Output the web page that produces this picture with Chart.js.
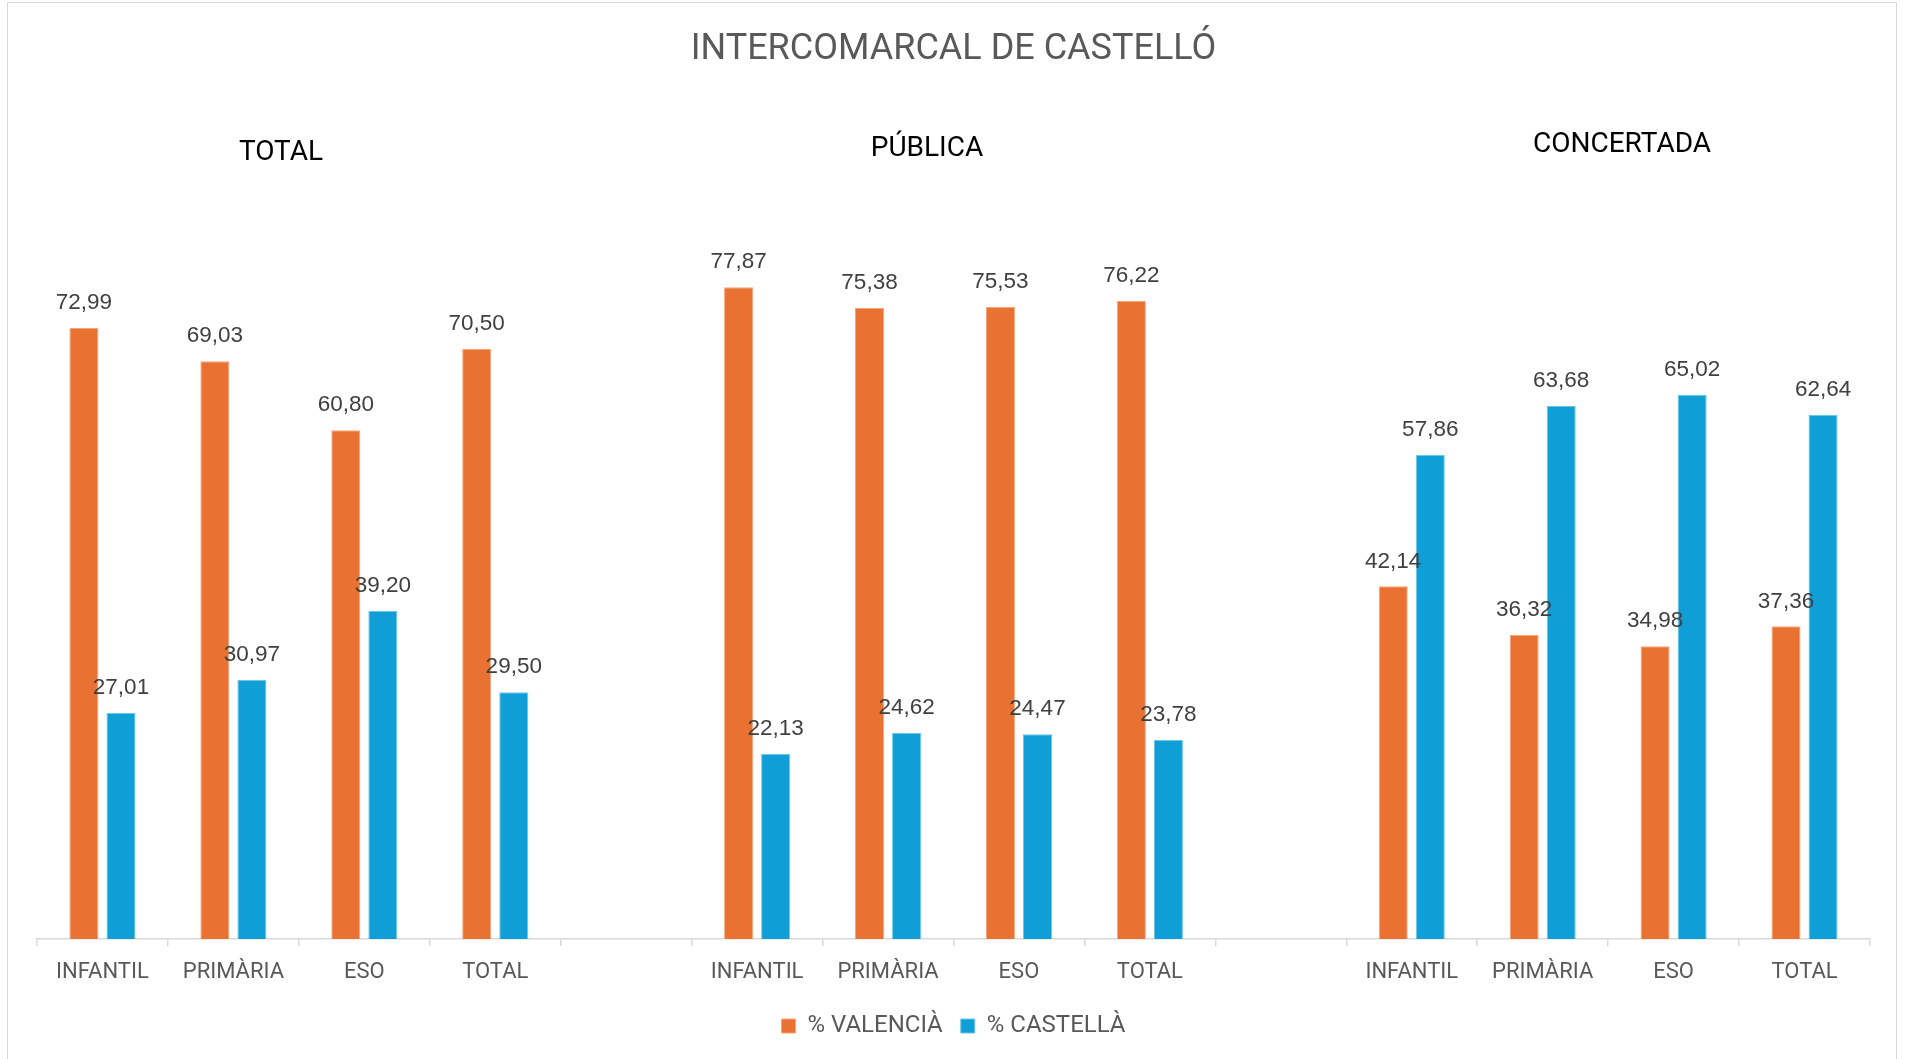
<!DOCTYPE html>
<html>
<head>
<meta charset="utf-8">
<script src="https://cdn.jsdelivr.net/npm/chart.js@4"></script>
<style>
  body { margin: 0; background: #ffffff; overflow: hidden; }
  #frame { position: absolute; left: 7px; top: 2px; width: 1888px; height: 1100px; border: 1px solid #d9d9d9; }
  #wrap { position: absolute; left: 0; top: 0; width: 1905px; height: 1059px; }
</style>
</head>
<body>
<div id="frame"></div>
<div id="wrap"><canvas id="myChart"></canvas></div>
<script>
const categories = ['INFANTIL', 'PRIMÀRIA', 'ESO', 'TOTAL', '',
                    'INFANTIL', 'PRIMÀRIA', 'ESO', 'TOTAL', '',
                    'INFANTIL', 'PRIMÀRIA', 'ESO', 'TOTAL'];

const valencia = [72.99, 69.03, 60.80, 70.50, null, 77.87, 75.38, 75.53, 76.22, null, 42.14, 36.32, 34.98, 37.36];
const castella = [27.01, 30.97, 39.20, 29.50, null, 22.13, 24.62, 24.47, 23.78, null, 57.86, 63.68, 65.02, 62.64];

const section_titles = ['TOTAL', 'PÚBLICA', 'CONCERTADA'];

const axis_font = 'Roboto';
const grey_text = '#595959';

// text boxes above each group
const section_positions = [[281, 153], [927, 149], [1622, 145]];

const sectionTitles = {
    id: 'sectionTitles',
    afterDraw(chart) {
        const ctx = chart.ctx;
        ctx.save();
        ctx.fillStyle = '#000000';
        ctx.font = '28px ' + axis_font;
        ctx.textAlign = 'center';
        ctx.textBaseline = 'middle';
        section_titles.forEach((t, i) => {
            ctx.fillText(t, section_positions[i][0], section_positions[i][1]);
        });
        ctx.restore();
    }
};

const valueLabels = {
    id: 'valueLabels',
    afterDatasetsDraw(chart) {
        const ctx = chart.ctx;
        ctx.save();
        ctx.fillStyle = '#404040';
        ctx.font = '22.5px "Liberation Sans"';
        ctx.textAlign = 'center';
        ctx.textBaseline = 'middle';
        chart.data.datasets.forEach((ds, di) => {
            const meta = chart.getDatasetMeta(di);
            meta.data.forEach((bar, i) => {
                const v = ds.data[i];
                if (v === null) return;
                ctx.fillText(v.toFixed(2).replace('.', ','), bar.x, bar.y - 25);
            });
        });
        ctx.restore();
    }
};

const data = {
    labels: categories,
    datasets: [{
        label: '% VALENCIÀ',
        data: valencia,
        backgroundColor: '#E97132',
        borderColor: '#F4A57A',
        borderWidth: 1
    }, {
        label: '% CASTELLÀ',
        data: castella,
        backgroundColor: '#0F9ED5',
        borderColor: '#6CC6EA',
        borderWidth: 1
    }]
};

const options = {
    responsive: false,
    animation: { duration: 0 },
    layout: {
        padding: { left: 37, right: 35, top: 28, bottom: 11 }
    },
    categoryPercentage: 0.566,
    barPercentage: 0.784,
    scales: {
        x: {
            afterFit: (scale) => { scale.height -= 2.5; },
            grid: {
                offset: true,
                drawOnChartArea: false,
                color: '#d9d9d9',
                tickLength: 7,
                lineWidth: 1.5
            },
            border: { color: '#d9d9d9', width: 1.5 },
            ticks: {
                color: grey_text,
                font: { family: axis_font, size: 22 },
                padding: 13,
                maxRotation: 0,
                autoSkip: false
            }
        },
        y: {
            display: false,
            min: 0,
            max: 90
        }
    },
    plugins: {
        title: {
            display: true,
            text: 'INTERCOMARCAL DE CASTELLÓ',
            color: grey_text,
            font: { family: axis_font, size: 36, weight: 'normal' },
            padding: { top: 0, bottom: 114.5 }
        },
        legend: {
            position: 'bottom',
            labels: {
                color: grey_text,
                font: { family: axis_font, size: 24 },
                boxWidth: 14,
                boxHeight: 14,
                padding: 18,
                useBorderRadius: false
            }
        },
        tooltip: { enabled: false }
    }
};

let context = document.getElementById('myChart');
context.width = 1905;
context.height = 1059;

const chart = new Chart(context, {
    type: 'bar',
    data: data,
    options: options,
    plugins: [sectionTitles, valueLabels]
});
</script>
</body>
</html>
